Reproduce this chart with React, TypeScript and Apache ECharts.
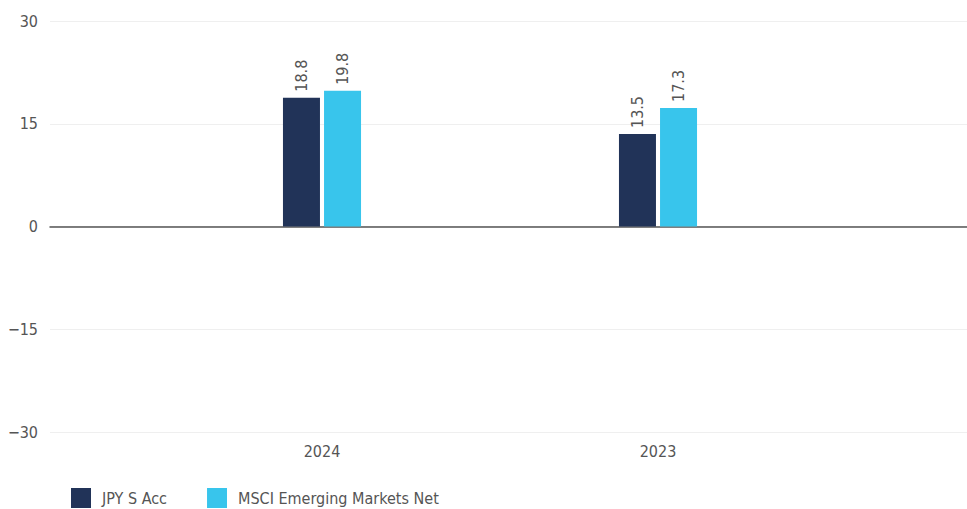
import React, { useEffect, useRef } from "react";
import * as echarts from "echarts";

const categories = ["2024", "2023"];
const fundName = "JPY S Acc";
const benchName = "MSCI Emerging Markets Net";
const fundValues = [18.8, 13.5];
const benchValues = [19.8, 17.3];
const yTicks = { min: -30, max: 30, interval: 15 };

const FONT = "'DejaVu Sans Condensed', 'Liberation Sans Narrow', 'DejaVu Sans', sans-serif";
const STRETCH = "condensed";
const TEXT = "#555555";
const FS = 16;

export default function App() {
  const ref = useRef<HTMLDivElement>(null);
  useEffect(() => {
    if (!ref.current) return;
    const chart = echarts.init(ref.current, undefined, { renderer: "svg" });
    const label = {
      show: true,
      position: "top",
      rotate: 90,
      align: "left",
      verticalAlign: "middle",
      distance: 6,
      color: TEXT,
      fontFamily: FONT,
      fontStyle: STRETCH,
      fontSize: FS,
      formatter: (p: any) => p.value.toFixed(1),
    };
    chart.setOption({
      animation: false,
      textStyle: { fontFamily: FONT, fontStyle: STRETCH },
      grid: [
        { left: 50, right: 0, top: 21, bottom: 77 },
        { left: 154, right: 141, top: 21, bottom: 77 },
      ],
      legend: {
        left: 66,
        top: 483,
        itemWidth: 20,
        itemHeight: 20,
        itemGap: 40,
        icon: "rect",
        textStyle: { color: TEXT, fontFamily: FONT, fontStyle: STRETCH, fontSize: FS, padding: [0, 0, 0, 6] },
        data: [fundName, benchName],
      },
      xAxis: [
        {
          gridIndex: 0,
          type: "value",
          min: 0,
          max: 1,
          axisLabel: { show: false },
          axisTick: { show: false },
          splitLine: { show: false },
          axisLine: { show: true, onZero: true, lineStyle: { color: "#555", width: 1.5 } },
        },
        {
          gridIndex: 1,
          type: "category",
          data: categories,
          axisLine: { show: false },
          axisTick: { show: false },
          axisLabel: { color: TEXT, fontFamily: FONT, fontStyle: STRETCH, fontSize: FS, margin: 11 },
        },
      ],
      yAxis: [
        {
          gridIndex: 0,
          type: "value",
          min: yTicks.min,
          max: yTicks.max,
          interval: yTicks.interval,
          axisLabel: {
            color: TEXT,
            fontFamily: FONT,
            fontStyle: STRETCH,
            fontSize: FS,
            margin: 12,
            formatter: (v: number) => (v < 0 ? "\u2212" + Math.abs(v) : String(v)),
          },
          axisLine: { show: false },
          axisTick: { show: false },
          splitLine: { lineStyle: { color: "#efefef", width: 1 } },
        },
        {
          gridIndex: 1,
          type: "value",
          min: yTicks.min,
          max: yTicks.max,
          interval: yTicks.interval,
          show: false,
          splitLine: { show: false },
        },
      ],
      series: [
        {
          name: fundName,
          type: "bar",
          xAxisIndex: 1,
          yAxisIndex: 1,
          data: fundValues,
          barWidth: 37,
          barGap: "11%",
          itemStyle: { color: "#213358" },
          label,
        },
        {
          name: benchName,
          type: "bar",
          xAxisIndex: 1,
          yAxisIndex: 1,
          data: benchValues,
          barWidth: 37,
          barGap: "11%",
          itemStyle: { color: "#38c5ec" },
          label,
        },
      ],
    });
    return () => chart.dispose();
  }, []);
  return <div ref={ref} style={{ position: "absolute", left: 0, top: 0, width: 967, height: 509 }} />;
}
